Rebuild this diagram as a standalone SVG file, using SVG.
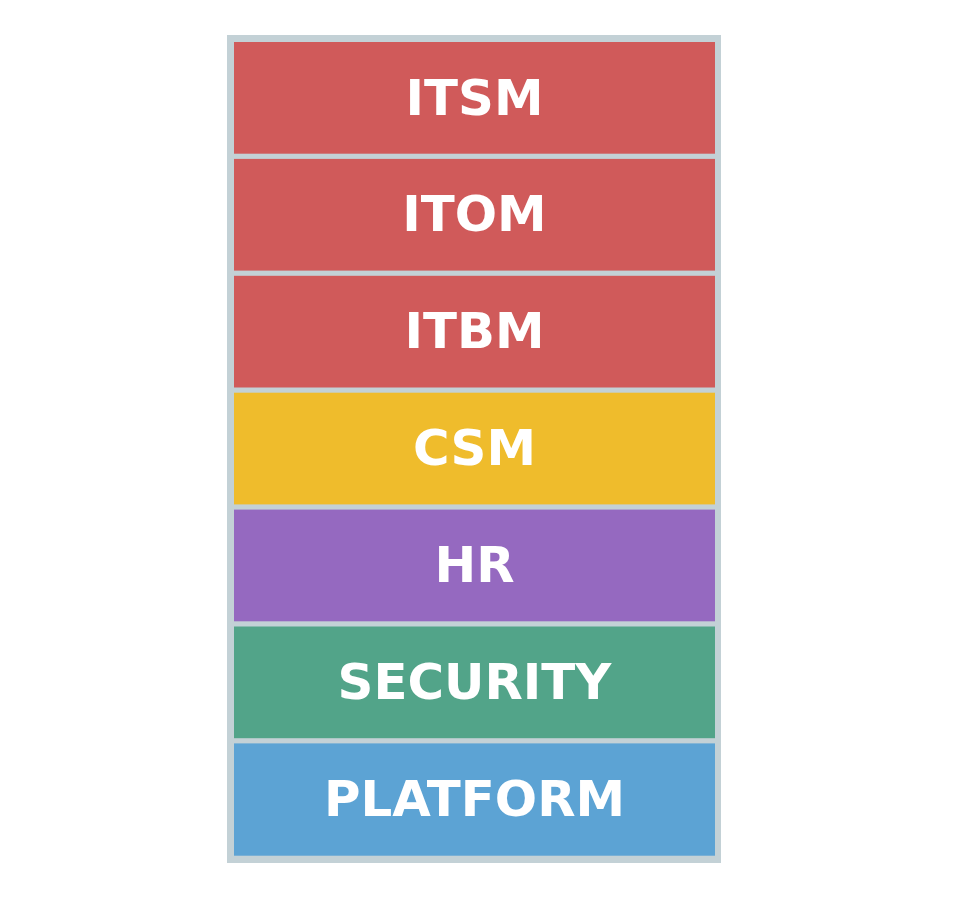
<svg xmlns="http://www.w3.org/2000/svg" width="976" height="900" viewBox="0 0 976 900">
<style>
.lbl{font-family:"DejaVu Sans","Liberation Sans",sans-serif;font-weight:bold;font-size:49.8px;fill:#ffffff;text-anchor:middle}
.red{fill:#d05a5a}.yel{fill:#efbc2c}.pur{fill:#9569c0}.grn{fill:#52a489}.blu{fill:#5ca3d4}
</style>
<rect width="976" height="900" fill="#ffffff"/>
<rect id="frame" x="227" y="35" width="494" height="828" fill="#c3d1d6"/>
<g id="itsm"><rect class="red" x="234" y="42" width="481" height="111.7"/><text class="lbl" x="474.5" y="114.5">ITSM</text></g>
<g id="itom"><rect class="red" x="234" y="158.9" width="481" height="111.7"/><text class="lbl" x="474.5" y="231.4">ITOM</text></g>
<g id="itbm"><rect class="red" x="234" y="275.8" width="481" height="111.7"/><text class="lbl" x="474.5" y="348.3">ITBM</text></g>
<g id="csm"><rect class="yel" x="234" y="392.7" width="481" height="111.7"/><text class="lbl" x="474.5" y="465.2">CSM</text></g>
<g id="hr"><rect class="pur" x="234" y="509.6" width="481" height="111.7"/><text class="lbl" x="474.5" y="582.1">HR</text></g>
<g id="security"><rect class="grn" x="234" y="626.5" width="481" height="111.7"/><text class="lbl" x="474.5" y="699">SECURITY</text></g>
<g id="platform"><rect class="blu" x="234" y="743.4" width="481" height="112.3"/><text class="lbl" x="474.5" y="815.9">PLATFORM</text></g>
<g id="connectors"/>
</svg>
